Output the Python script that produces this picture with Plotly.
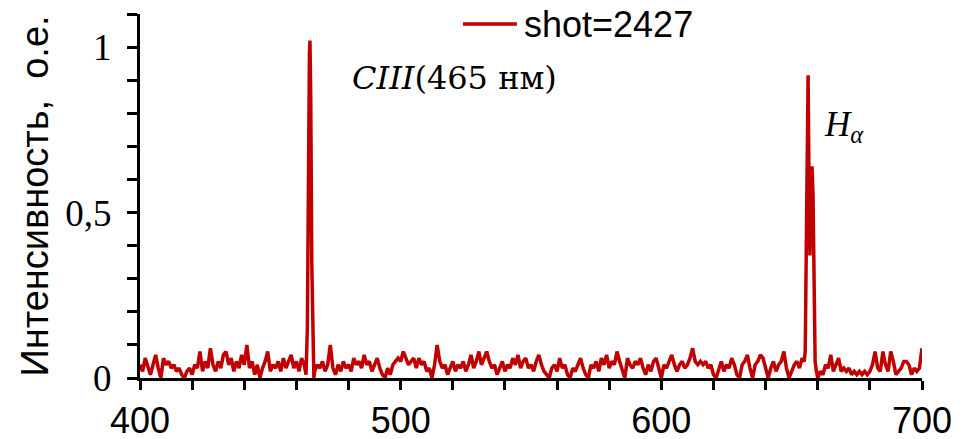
import numpy as np
import plotly.graph_objects as go

# Spectrum of shot 2427, intensity in relative units.
# Background segments are sampled every 1 nm starting at the given wavelength;
# the two emission lines are given on a finer wavelength grid.
seg_a_start = 400
seg_a = [
    0.04, 0.02, 0.06, 0.03, 0.01, 0.04, 0.07, 0.03, 0.00, 0.06,
    0.04, 0.05, 0.03, 0.04, 0.02, 0.03, 0.01, 0.00, 0.02, 0.03,
    0.01, 0.04, 0.03, 0.08, 0.02, 0.05, 0.03, 0.09, 0.04, 0.02,
    0.05, 0.03, 0.07, 0.08, 0.04, 0.06, 0.02, 0.05, 0.03, 0.07,
    0.04, 0.10, 0.03, 0.05, 0.01, 0.04, 0.00, 0.03, 0.05, 0.08,
    0.02, 0.04, 0.03, 0.05, 0.02, 0.06, 0.03, 0.05, 0.07, 0.03,
    0.05, 0.02, 0.06, 0.04,
]

ciii_wl = [463.7, 464.2, 464.6, 465.0, 465.2, 465.5, 465.9, 466.3, 466.7]
ciii_int = [0.01, 0.15, 0.70, 0.98, 1.02, 0.85, 0.35, 0.05, 0.00]

seg_b_start = 467
seg_b = [
    0.02, 0.04, 0.03, 0.05, 0.02, 0.04, 0.10, 0.03, 0.01, 0.04,
    0.02, 0.05, 0.03, 0.04, 0.02, 0.06, 0.04, 0.05, 0.03, 0.07,
    0.04, 0.05, 0.02, 0.04, 0.06, 0.03, 0.01, 0.00, 0.03, 0.01,
    0.04, 0.05, 0.06, 0.05, 0.08, 0.06, 0.04, 0.05, 0.06, 0.03,
    0.06, 0.04, 0.05, 0.02, 0.03, 0.00, 0.04, 0.10, 0.05, 0.03,
    0.04, 0.01, 0.03, 0.05, 0.02, 0.04, 0.03, 0.05, 0.02, 0.04,
    0.07, 0.03, 0.05, 0.08, 0.04, 0.06, 0.08, 0.05, 0.03, 0.04,
    0.01, 0.03, 0.05, 0.02, 0.04, 0.03, 0.06, 0.04, 0.07, 0.03,
    0.05, 0.06, 0.03, 0.04, 0.02, 0.05, 0.07, 0.04, 0.02, 0.01,
    0.00, 0.03, 0.04, 0.02, 0.06, 0.03, 0.04, 0.01, 0.00, 0.03,
    0.02, 0.04, 0.06, 0.03, 0.01, 0.00, 0.04, 0.03, 0.05, 0.02,
    0.06, 0.04, 0.07, 0.03, 0.05, 0.04, 0.08, 0.05, 0.02, 0.00,
    0.06, 0.04, 0.03, 0.05, 0.04, 0.06, 0.03, 0.01, 0.04, 0.02,
    0.05, 0.06, 0.03, 0.00, 0.04, 0.03, 0.05, 0.07, 0.04, 0.02,
    0.04, 0.05, 0.03, 0.04, 0.06, 0.09, 0.05, 0.04, 0.05, 0.04,
    0.05, 0.03, 0.04, 0.01, 0.00, 0.03, 0.05, 0.02, 0.04, 0.03,
    0.06, 0.04, 0.01, 0.00, 0.04, 0.05, 0.07, 0.03, 0.00, 0.04,
    0.05, 0.07, 0.06, 0.03, 0.00, 0.03, 0.05, 0.02, 0.04, 0.05,
    0.08, 0.03, 0.00, 0.02, 0.04, 0.05, 0.03, 0.06,
]

halpha_wl = [654.8, 655.2, 655.6, 656.0, 656.3, 656.6, 657.0, 657.4, 657.8, 658.2, 658.6, 659.0, 659.5]
halpha_int = [0.05, 0.08, 0.45, 0.85, 0.915, 0.65, 0.37, 0.52, 0.64, 0.55, 0.20, 0.05, 0.02]

seg_c_start = 660
seg_c = [
    0.00, 0.02, 0.01, 0.04, 0.03, 0.07, 0.02, 0.04, 0.06, 0.02,
    0.03, 0.02, 0.03, 0.01, 0.02, 0.01, 0.02, 0.01, 0.02, 0.01,
    0.02, 0.04, 0.08, 0.03, 0.02, 0.08, 0.04, 0.02, 0.08, 0.05,
    0.01, 0.02, 0.03, 0.05, 0.05, 0.04, 0.01, 0.03, 0.02, 0.03,
    0.09,
]

x_major = [400, 500, 600, 700]
x_minor = list(range(400, 701, 20))
y_major = [0, 0.5, 1]
y_major_text = ["0", "0,5", "1"]
y_minor = [round(0.1 * i, 1) for i in range(12)]

series_name = "shot=2427"
line_color = "#C00000"


def seg_x(start, values):
    return list(np.arange(start, start + len(values), 1.0))


wavelength = (seg_x(seg_a_start, seg_a) + ciii_wl + seg_x(seg_b_start, seg_b)
              + halpha_wl + seg_x(seg_c_start, seg_c))
intensity = seg_a + ciii_int + seg_b + halpha_int + seg_c

fig = go.Figure()
fig.add_trace(go.Scatter(
    x=wavelength, y=intensity, mode="lines", name=series_name,
    line=dict(color=line_color, width=3.5), showlegend=False,
))

sans = "Liberation Sans, Arial, sans-serif"
serif = "Liberation Serif, Times New Roman, serif"
wide_serif = "DejaVu Serif, serif"

fig.update_layout(
    width=964, height=439,
    margin=dict(l=140, r=42, t=14, b=61),
    paper_bgcolor="white", plot_bgcolor="white",
    xaxis=dict(
        range=[400, 700], showgrid=False, zeroline=False, automargin=False,
        showline=True, linecolor="black", linewidth=3,
        tickmode="array", tickvals=x_major,
        ticks="outside", ticklen=9, tickwidth=3, tickcolor="black",
        tickfont=dict(family=sans, size=36, color="black"),
        minor=dict(tickvals=x_minor, ticks="outside", ticklen=9,
                   tickwidth=3, tickcolor="black"),
    ),
    yaxis=dict(
        range=[0, 1.1], showgrid=False, zeroline=False, automargin=False,
        showline=True, linecolor="black", linewidth=3,
        tickmode="array", tickvals=y_major, ticktext=y_major_text,
        ticks="outside", ticklen=10, tickwidth=3, tickcolor="black",
        ticklabelstandoff=8,
        tickfont=dict(family=serif, size=37, color="black"),
        minor=dict(tickvals=y_minor, ticks="outside", ticklen=10,
                   tickwidth=3, tickcolor="black"),
        title=dict(text="Интенсивность,\u00a0\u00a0о.е.",
                   font=dict(family=sans, size=38, color="black"),
                   standoff=6),
    ),
)

# Legend entry drawn as a short line sample plus label
fig.add_shape(type="line", xref="paper", yref="paper",
              x0=0.413, x1=0.482, y0=0.9725, y1=0.9725,
              line=dict(color=line_color, width=3.5))
fig.add_annotation(xref="paper", yref="paper", x=0.4885, y=0.9725,
                   xanchor="left", yanchor="middle", showarrow=False,
                   text=series_name,
                   font=dict(family=sans, size=36, color="black"))

# Line identifications
fig.add_annotation(xref="paper", yref="paper", x=0.2685, y=0.824,
                   xanchor="left", yanchor="middle", showarrow=False,
                   text="<i>CIII</i>(465 нм)",
                   font=dict(family=wide_serif, size=32, color="black"))
fig.add_annotation(xref="paper", yref="paper", x=0.872, y=0.69,
                   xanchor="left", yanchor="middle", showarrow=False,
                   text="<i>H</i><sub><i>α</i></sub>",
                   font=dict(family=serif, size=35, color="black"))

fig.write_html("out.html")
